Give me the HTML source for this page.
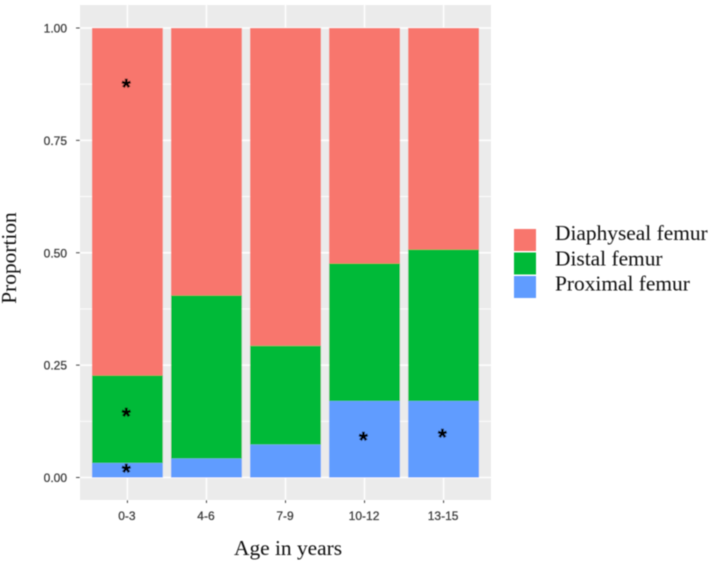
<!DOCTYPE html>
<html lang="en">
<head>
<meta charset="utf-8">
<title>Femur fracture proportion by age</title>
<style>
html,body{margin:0;padding:0;background:#fff;width:709px;height:562px;overflow:hidden}
svg{display:block}
.tick{font-family:"Liberation Sans",sans-serif;font-size:12px;fill:#3a3a3a;stroke:#3a3a3a;stroke-width:0.25}
.serif{font-family:"Liberation Serif",serif;font-size:21.4px;fill:#111}
</style>
</head>
<body>
<svg id="chart" width="709" height="562" viewBox="0 0 709 562">
  <defs><filter id="soft" x="-2%" y="-2%" width="104%" height="104%"><feGaussianBlur stdDeviation="0.45"/></filter></defs>
  <g id="root" filter="url(#soft)"></g>
</svg>
<script>
const categories = ["0-3", "4-6", "7-9", "10-12", "13-15"];
const proximalValues = [0.032, 0.042, 0.073, 0.170, 0.170];
const distalValues = [0.195, 0.363, 0.220, 0.306, 0.337];
const diaphysealValues = [0.773, 0.595, 0.707, 0.524, 0.493];
const yTickLabels = ["0.00", "0.25", "0.50", "0.75", "1.00"];
const yTickValues = [0, 0.25, 0.5, 0.75, 1];
const yMinorValues = [0.125, 0.375, 0.625, 0.875];
const legendLabels = ["Diaphyseal femur", "Distal femur", "Proximal femur"];
const starCategories = ["0-3", "0-3", "0-3", "10-12", "13-15"];
const starValues = [0.875, 0.143, 0.019, 0.090, 0.096];

const NS = "http://www.w3.org/2000/svg";
const root = document.getElementById("root");
const panel = {left: 80, right: 491, top: 5, bottom: 500};
const step = (panel.right - panel.left) / (categories.length - 1 + 1.2);
const barWidth = step * 0.895;
function xScale(cat) { return panel.left + step * (0.6 + categories.indexOf(cat)); }
function yScale(v) { return 477.5 - v * 449.5; }
function make(tag, attrs, text) {
  const el = document.createElementNS(NS, tag);
  for (const k in attrs) el.setAttribute(k, attrs[k]);
  if (text !== undefined) el.textContent = text;
  root.appendChild(el);
  return el;
}

const bg = make("rect", {x: panel.left, y: panel.top, width: panel.right - panel.left, height: panel.bottom - panel.top, fill: "#ebebeb"});



yMinorValues.forEach(function (v) {
  const g = make("line", {x1: panel.left, x2: panel.right, y1: yScale(v), y2: yScale(v), stroke: "#fff", "stroke-width": 0.8});
  
  
});
yTickValues.forEach(function (v, i) {
  const y = yScale(v);
  const g = make("line", {x1: panel.left, x2: panel.right, y1: y, y2: y, stroke: "#fff", "stroke-width": 1.5});
  
  
  const t = make("line", {x1: 76, x2: 80, y1: y, y2: y, stroke: "#444", "stroke-width": 1});
  
  
  const l = make("text", {x: 67, y: y + 4.5, "text-anchor": "end", "class": "tick"}, yTickLabels[i]);
  
  
});
categories.forEach(function (c) {
  const x = xScale(c);
  const g = make("line", {x1: x, x2: x, y1: panel.top, y2: panel.bottom, stroke: "#fff", "stroke-width": 1.5});
  
  
  const t = make("line", {x1: x, x2: x, y1: 500, y2: 503, stroke: "#444", "stroke-width": 1});
  
  
  const l = make("text", {x: x - 0.5, y: 520, "text-anchor": "middle", "class": "tick"}, c);
  
  
});

const colors = {diaphyseal: "#f8766d", distal: "#00ba38", proximal: "#619cff"};
categories.forEach(function (c, i) {
  const x = xScale(c) - barWidth / 2;
  const a = proximalValues[i], b = a + distalValues[i], d = b + diaphysealValues[i];
  const s1 = make("rect", {x: x, width: barWidth, y: yScale(d), height: yScale(b) - yScale(d), fill: colors.diaphyseal});
  
  
  const s2 = make("rect", {x: x, width: barWidth, y: yScale(b), height: yScale(a) - yScale(b), fill: colors.distal});
  
  
  const s3 = make("rect", {x: x, width: barWidth, y: yScale(a), height: yScale(0) - yScale(a), fill: colors.proximal});
  
  
});

starValues.forEach(function (v, i) {
  const x = xScale(starCategories[i]) - 1.2;
  const s = make("text", {x: x, y: yScale(v) + 10.8, "text-anchor": "middle", "font-family": "\"Liberation Sans\",sans-serif", "font-size": 23, "font-weight": "bold", fill: "#000", stroke: "#000", "stroke-width": 0.5}, "*");
  
  
});

const legendColors = [colors.diaphyseal, colors.distal, colors.proximal];
const legendTextOffsets = [0, 25.5, 50.5];
legendLabels.forEach(function (name, i) {
  const k = make("rect", {x: 514, y: 229 + i * 23.5, width: 22, height: 22, fill: legendColors[i]});
  
  
  const t = make("text", {x: 555, y: 240 + legendTextOffsets[i], "class": "serif"}, name);
  
  
});

const xTitle = make("text", {x: 234, y: 555, "class": "serif"}, "Age in years");


const yTitle = make("text", {x: 0, y: 0, "class": "serif", "text-anchor": "middle", transform: "translate(16 258) rotate(-90)"}, "Proportion");


</script>
</body>
</html>
